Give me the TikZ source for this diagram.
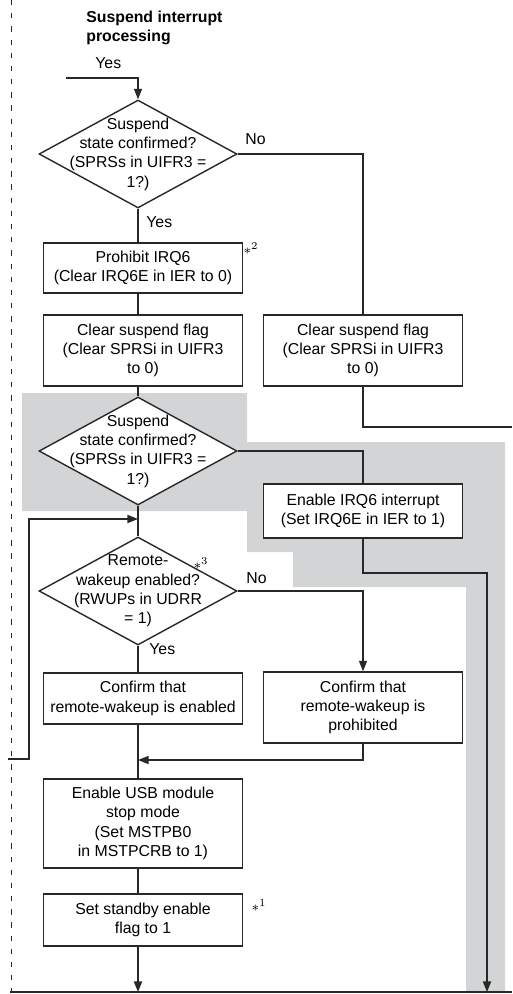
\documentclass[tikz,border=0pt]{standalone}
\usepackage{fontspec}
\setmainfont{Liberation Sans}
\usetikzlibrary{shapes.geometric,arrows.meta}
\definecolor{areagray}{RGB}{211,212,214}
\definecolor{ink}{RGB}{40,40,40}

\begin{document}
\begin{tikzpicture}[x=0.02cm,y=-0.02cm,
	font=\fontsize{9}{11}\selectfont,
	box/.style={shape=rectangle,draw=ink,fill=white,line width=0.8pt,minimum width=3.98cm,align=center,inner sep=1pt},
	dec/.style={shape=diamond,draw=ink,fill=white,line width=0.8pt,minimum width=3.96cm,minimum height=2.16cm,inner sep=0pt},
	dtext/.style={align=center,inner sep=0pt},
	line/.style={draw=ink,line width=0.8pt},
	arr/.style={line,-{Triangle[length=6pt,width=4.6pt]}},
	note/.style={font=\fontsize{8}{9}\selectfont,inner sep=0pt},
	tag/.style={anchor=west,inner sep=0pt}]
	
	\useasboundingbox (0,0) rectangle (512,994);
	
	% shaded part
	\fill[areagray] (22,393) -- (247,393) -- (247,442) -- (505,442) -- (505,992) -- (466,992)
		-- (466,587) -- (293,587) -- (293,552) -- (247,552) -- (247,511) -- (22,511) -- cycle;
	
	% page border
	\draw[ink,line width=0.5pt,dash pattern=on 3pt off 4.5pt] (11,0) -- (11,992);
	\draw[line] (10,992) -- (512,992);
	
	\node[font=\fontsize{9}{11}\selectfont\bfseries,align=left,anchor=west,inner sep=0pt] (title) at (86,28) {Suspend interrupt\\processing};
	
	\node[dec,label={[dtext]center:{Suspend\\state confirmed?\\(SPRSs in UIFR3 =\\1?)}}] (chk1) at (138,154) {};
	\node[box,minimum height=1.0cm] (irqoff) at (143,268) {Prohibit IRQ6\\(Clear IRQ6E in IER to 0)};
	\node[box,minimum height=1.42cm] (clrA) at (143,350.5) {Clear suspend flag\\(Clear SPRSi in UIFR3\\to 0)};
	\node[box,minimum height=1.42cm] (clrB) at (363,350.5) {Clear suspend flag\\(Clear SPRSi in UIFR3\\to 0)};
	\node[dec,label={[dtext]center:{Suspend\\state confirmed?\\(SPRSs in UIFR3 =\\1?)}}] (chk2) at (138,451) {};
	\node[box,minimum height=1.08cm] (irqon) at (363,511) {Enable IRQ6 interrupt\\(Set IRQ6E in IER to 1)};
	\node[dec,label={[dtext]center:{Remote-\\wakeup enabled?\\(RWUPs in UDRR\\= 1)}}] (wake) at (138,591) {};
	\node[box,minimum height=1.02cm] (wakeon) at (143,698.5) {Confirm that\\remote-wakeup is enabled};
	\node[box,minimum height=1.42cm] (wakeoff) at (363,707.5) {Confirm that\\remote-wakeup is\\prohibited};
	\node[box,minimum height=1.78cm] (usb) at (143,823.5) {Enable USB module\\stop mode\\(Set MSTPB0\\in MSTPCRB to 1)};
	\node[box,minimum height=1.04cm] (stby) at (143,920) {Set standby enable\\flag to 1};
	
	\node[note] (n2) at (251,249) {$\ast^{2}$};
	\node[note] (n3) at (201,564) {$\ast^{3}$};
	\node[note] (n1) at (259,906) {$\ast^{1}$};
	
	\node[tag] (yes0) at (95,63) {Yes};
	\node[tag] (no1) at (245,139) {No};
	\node[tag] (yes1) at (146,222) {Yes};
	\node[tag] (no3) at (246,578) {No};
	\node[tag] (yes3) at (149,649) {Yes};
	
	\coordinate (entry) at (66,78);
	\coordinate (exitA) at (512,427);
	\coordinate (bendB) at (487,573);
	\coordinate (exitB) at (487,992);
	\coordinate (loopin) at (8,759);
	\coordinate (loopup) at (29,519);
	\coordinate (join) at (138,760);
	\coordinate (exitC) at (138,992);
	
	\draw[arr] (entry) -| (chk1.north);
	\draw[line] (chk1.south) -- (chk1.south |- irqoff.north);
	\draw[line] (chk1.east) -| (clrB.north);
	\draw[line] (chk1.south |- irqoff.south) -- (chk1.south |- clrA.north);
	\draw[line] (chk1.south |- clrA.south) -- (chk2.north);
	\draw[line] (clrB.south) |- (exitA);
	\draw[line] (chk2.east) -| (irqon.north);
	\draw[arr] (irqon.south) |- (bendB) -- (exitB);
	\draw[line] (chk2.south) -- (wake.north);
	\draw[arr] (loopin) -| (loopup) -- (loopup -| chk2.south);
	\draw[arr] (wake.east) -| (wakeoff.north);
	\draw[line] (wake.south) -- (wake.south |- wakeon.north);
	\draw[line] (wake.south |- wakeon.south) -- (wake.south |- usb.north);
	\draw[arr] (wakeoff.south) |- (join);
	\draw[line] (join |- usb.south) -- (join |- stby.north);
	\draw[arr] (join |- stby.south) -- (exitC);
	
\end{tikzpicture}
\end{document}
